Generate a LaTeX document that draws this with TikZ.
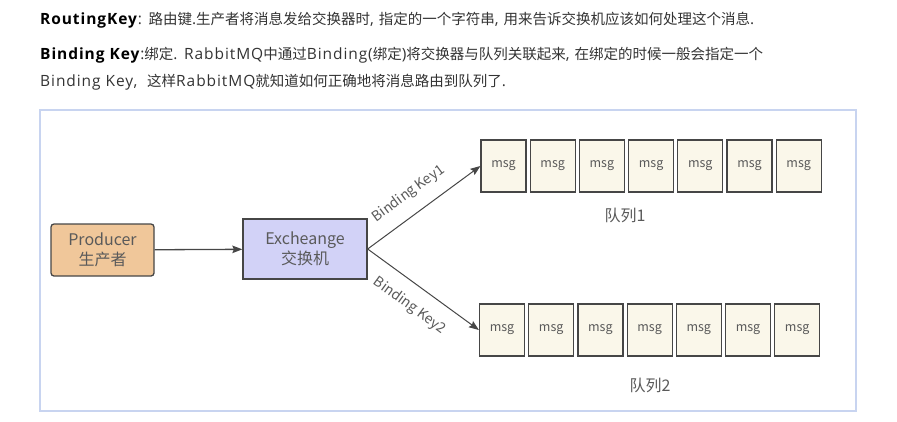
\documentclass[tikz,border=0pt]{standalone}
\usepackage{fontspec}
\setmainfont{Open Sans}
\newfontfamily\headfont[LetterSpace=6]{Open Sans}
\newfontfamily\cjk{Noto Sans CJK SC}
\newcommand\zh[1]{{\cjk\fontsize{14.5}{17}\selectfont #1}}
\usepackage{xcolor}
\usetikzlibrary{positioning,arrows.meta}
\definecolor{ctext}{RGB}{51,51,51}
\definecolor{cdiag}{RGB}{90,90,90}
\definecolor{cline}{RGB}{70,70,70}
\definecolor{cframe}{RGB}{200,212,240}
\definecolor{cprod}{RGB}{240,199,154}
\definecolor{cexch}{RGB}{210,210,247}
\definecolor{cmsg}{RGB}{250,247,234}

\begin{document}
\begin{tikzpicture}[x=1pt,y=-1pt,
          every node/.style={text=cdiag},
          box/.style={draw=cline, line width=1.3pt, align=center,
          font=\cjk\fontsize{16}{20}\selectfont},
          prodbox/.style={box, fill=cprod, rounded corners=3pt,
          minimum width=103pt, minimum height=52pt},
          exchbox/.style={box, fill=cexch, minimum width=124pt, minimum height=60pt},
          msgbox/.style={draw=cline, line width=1.2pt, fill=cmsg,
          minimum width=45pt, minimum height=52pt, inner sep=0pt,
          font=\cjk\fontsize{12.5}{14}\selectfont},
          head/.style={anchor=west, inner sep=0pt, text=ctext,
          font=\headfont\fontsize{15.5}{17}\selectfont},
          keylabel/.style={sloped, font=\cjk\fontsize{14}{16}\selectfont},
          qlabel/.style={font=\cjk\fontsize{16}{18}\selectfont},
          arr/.style={-{Stealth[length=10pt,width=7.5pt,inset=1.5pt]},
          draw=cline, line width=1.3pt},
          thinarr/.style={arr, line width=1pt},
        ]
          \useasboundingbox (0,0) rectangle (897,421);

          \def\dx{49.2}

          % ── Header text ──────────────────────────────────────
          \node[head] (h1) at (40,20)
            {\textcolor{black}{\textbf{RoutingKey}}: \zh{路由键}.\zh{生产者将消息发给交换器时}, \zh{指定的一个字符串}, \zh{用来告诉交换机应该如何处理这个消息}.};
          \node[head] (h2) at (40,55)
            {\textcolor{black}{\textbf{Binding Key}}:\zh{绑定}. RabbitMQ\zh{中通过}Binding(\zh{绑定})\zh{将交换器与队列关联起来}, \zh{在绑定的时候一般会指定一个}};
          \node[head] (h3) at (40,82)
            {Binding Key,\ \ \zh{这样}RabbitMQ\zh{就知道如何正确地将消息路由到队列了}.};

          % ── Frame ────────────────────────────────────────────
          \draw[cframe, line width=2pt] (40,110) rectangle (856,411);

          % ── Producer and exchange ────────────────────────────
          \node[prodbox] (prod) at (102.5,250) {Producer\\生产者};
          \node[exchbox] (exch) at (305,249)   {Excheange\\交换机};

          % ── Queues ───────────────────────────────────────────
          \foreach \i in {1,...,7} {
            \node[msgbox] (qa\i) at ({503.5+(\i-1)*\dx},166) {msg};
            \node[msgbox] (qb\i) at ({502+(\i-1)*\dx},330)   {msg};
          }
          \node[qlabel] (qaname) at (625,215) {队列1};
          \node[qlabel] (qbname) at (650,385) {队列2};

          % ── Edges ────────────────────────────────────────────
          \draw[arr] (prod) -- (exch);
          \draw[thinarr] (exch.east) -- (qa1.west)
            node[keylabel, above=9pt, pos=0.47] (keya) {Binding Key1};
          \draw[thinarr] (exch.east) -- (qb1.west)
            node[keylabel, below=10pt, pos=0.49] (keyb) {Binding Key2};

        \end{tikzpicture}
\end{document}
